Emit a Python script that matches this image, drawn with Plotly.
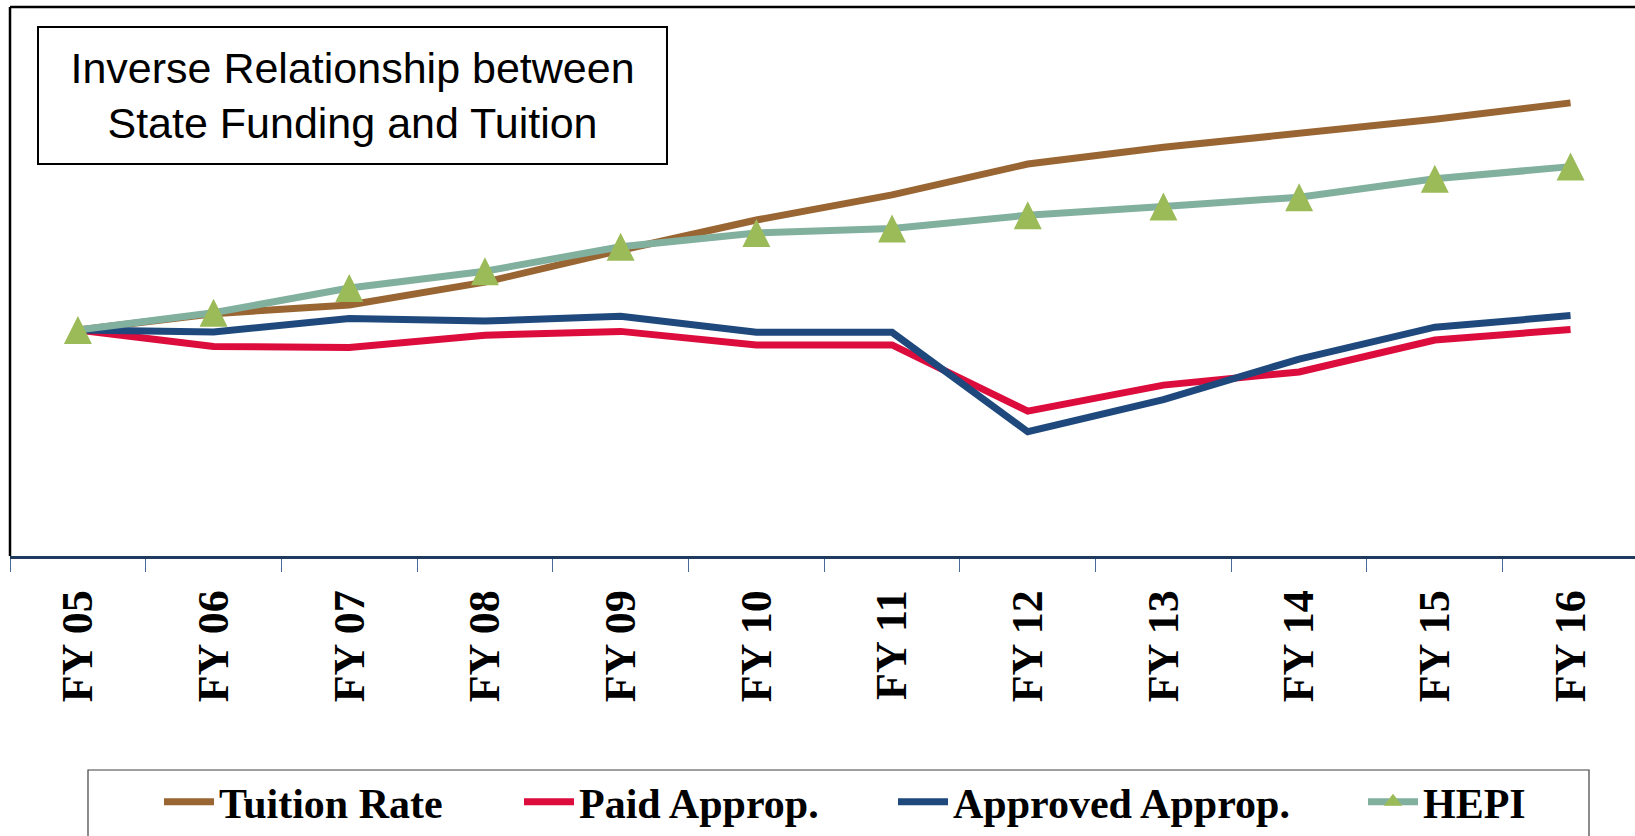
import plotly.graph_objects as go

# ---------------- data ----------------
categories = ["FY 05", "FY 06", "FY 07", "FY 08", "FY 09", "FY 10",
              "FY 11", "FY 12", "FY 13", "FY 14", "FY 15", "FY 16"]
tuition = [100, 105.1, 107.8, 114.9, 124.8, 134.2, 142.0, 151.6, 156.8, 161.3, 165.5, 170.6]
paid = [100, 94.9, 94.6, 98.4, 99.6, 95.4, 95.4, 74.8, 82.9, 87.0, 96.9, 100.2]
approved = [100, 99.4, 103.6, 102.8, 104.3, 99.3, 99.3, 68.4, 78.4, 91.0, 100.9, 104.5]
hepi = [100, 105.4, 113.1, 118.3, 125.9, 130.2, 131.6, 135.7, 138.4, 141.3, 147.0, 150.8]
series_names = ["Tuition Rate", "Paid Approp.", "Approved Approp.", "HEPI"]
title_lines = ["Inverse Relationship between", "State Funding and Tuition"]

# ---------------- layout geometry ----------------
W, H = 1635, 836
ML, MT, MB, MR = 10, 7, 280, 0
PW = W - ML - MR
PH = H - MT - MB
BOTTOM = MT + PH


def px_x(p):
    return (p - ML) / PW


def px_y(p):
    return (BOTTOM - p) / PH


colors = ["#996633", "#DC0C3D", "#1F497D", "#82B09E"]
marker_color = "#9BBB59"
legend_widths = [295, 309, 405, 110]
values = [tuition, paid, approved, hepi]

fig = go.Figure()
for i, (name, vals) in enumerate(zip(series_names, values)):
    kw = dict(
        x=categories, y=vals, name=name,
        line=dict(color=colors[i], width=7),
        legendwidth=legend_widths[i],
        hoverinfo="skip",
    )
    if name == "HEPI":
        kw["mode"] = "lines+markers"
        kw["marker"] = dict(symbol="arrow-down", angle=180, standoff=14, size=28,
                            color=marker_color, line=dict(width=0))
        kw["showlegend"] = False
        kw["legendgroup"] = "hepi"
    else:
        kw["mode"] = "lines"
    fig.add_trace(go.Scatter(**kw))

# legend entry for HEPI (no data, only the key)
fig.add_trace(go.Scatter(
    x=[None], y=[None], name=series_names[3], mode="lines+markers",
    line=dict(color=colors[3], width=7), legendgroup="hepi",
    marker=dict(symbol="triangle-up", size=16, color=marker_color, line=dict(width=0)),
    legendwidth=legend_widths[3], hoverinfo="skip",
))

serif = "Liberation Serif, Times New Roman, serif"

fig.update_layout(
    width=W, height=H,
    margin=dict(l=ML, r=MR, t=MT, b=MB, pad=0, autoexpand=False),
    paper_bgcolor="white", plot_bgcolor="white",
    showlegend=True,
    legend=dict(
        orientation="h", xref="container", yref="container",
        x=159 / W, xanchor="left", y=(H - 768) / H, yanchor="top",
        font=dict(family=serif, size=42, color="black", weight="bold"),
        bgcolor="rgba(0,0,0,0)", borderwidth=0, itemwidth=50,
        traceorder="normal",
    ),
    xaxis=dict(
        type="category", range=[-0.5, 11.475], tickson="boundaries",
        ticks="outside", ticklen=13, tickwidth=1, tickcolor="#4A6A9A",
        showline=True, linecolor="#1F3A5F", linewidth=2.5,
        tickangle=-90, showgrid=False, zeroline=False, automargin=False,
        ticklabelstandoff=14,
        tickfont=dict(family=serif, size=44, color="black", weight="bold"),
    ),
    yaxis=dict(range=[29.8, 200.4], visible=False, showgrid=False, zeroline=False,
               automargin=False),
    shapes=[
        dict(type="line", xref="paper", yref="paper", x0=0, x1=0, y0=0, y1=1,
             line=dict(color="black", width=2.5)),
        dict(type="line", xref="paper", yref="paper", x0=0, x1=1, y0=1, y1=1,
             line=dict(color="black", width=2.5)),
        dict(type="rect", xref="paper", yref="paper",
             x0=px_x(88), x1=px_x(1589), y0=px_y(860), y1=px_y(770),
             line=dict(color="#404040", width=1.2), fillcolor="rgba(0,0,0,0)"),
    ],
    annotations=[
        dict(
            text="<br>".join(title_lines), xref="paper", yref="paper",
            x=px_x(36.5), y=px_y(26), xanchor="left", yanchor="top",
            showarrow=False, width=627, height=135, align="center", valign="middle",
            bordercolor="black", borderwidth=2, borderpad=0, bgcolor="white",
            font=dict(family="Liberation Sans, Arial, sans-serif", size=43, color="black"),
        )
    ],
)

fig.write_html(
    "out.html",
    config={"displayModeBar": False},
    post_script="document.body.style.margin='0';document.body.style.overflow='hidden';",
)
